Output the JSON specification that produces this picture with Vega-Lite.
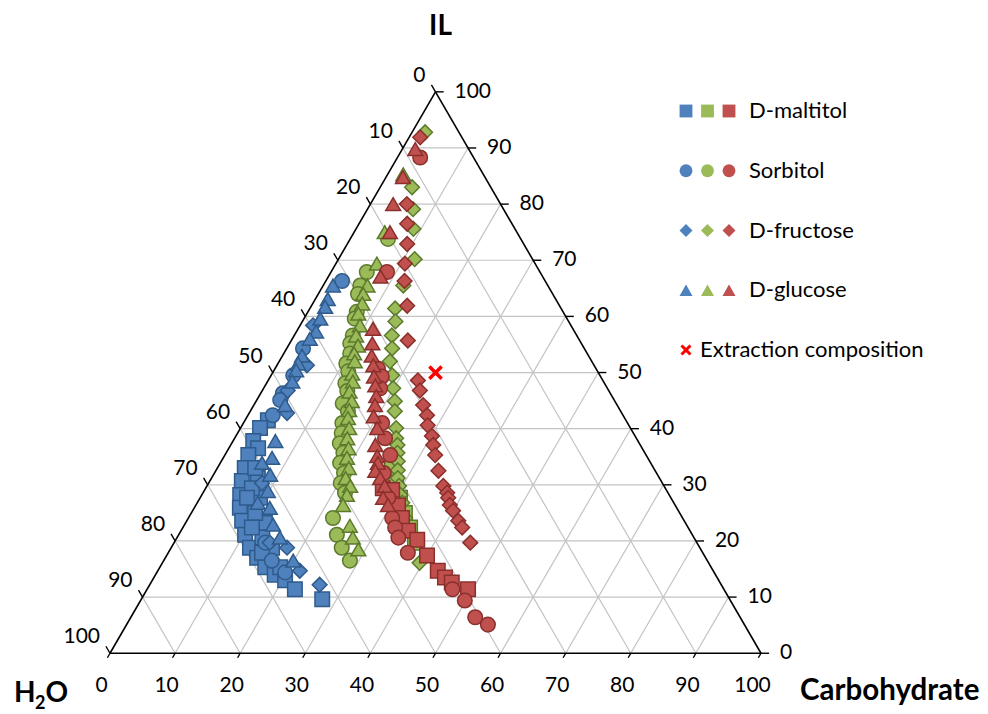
{
  "$schema": "https://vega.github.io/schema/vega-lite/v6.json",
  "width": 988,
  "height": 714,
  "padding": 0,
  "autosize": {"type": "fit", "contains": "padding"},
  "background": "#ffffff",
  "config": {"view": {"stroke": null}, "font": "Lato", "text": {"font": "Lato", "color": "#000000"}},
  "datasets": {
    "edges": [
      {"IL1": 0, "c1": 0, "IL2": 0, "c2": 100},
      {"IL1": 0, "c1": 100, "IL2": 100, "c2": 0},
      {"IL1": 100, "c1": 0, "IL2": 0, "c2": 0}
    ],
    "scaleMarks": [
      {"side": "C", "k": 0}, {"side": "C", "k": 10}, {"side": "C", "k": 20}, {"side": "C", "k": 30}, {"side": "C", "k": 40}, {"side": "C", "k": 50},
      {"side": "C", "k": 60}, {"side": "C", "k": 70}, {"side": "C", "k": 80}, {"side": "C", "k": 90}, {"side": "C", "k": 100},
      {"side": "IL", "k": 0}, {"side": "IL", "k": 10}, {"side": "IL", "k": 20}, {"side": "IL", "k": 30}, {"side": "IL", "k": 40}, {"side": "IL", "k": 50},
      {"side": "IL", "k": 60}, {"side": "IL", "k": 70}, {"side": "IL", "k": 80}, {"side": "IL", "k": 90}, {"side": "IL", "k": 100},
      {"side": "W", "k": 0}, {"side": "W", "k": 10}, {"side": "W", "k": 20}, {"side": "W", "k": 30}, {"side": "W", "k": 40}, {"side": "W", "k": 50},
      {"side": "W", "k": 60}, {"side": "W", "k": 70}, {"side": "W", "k": 80}, {"side": "W", "k": 90}, {"side": "W", "k": 100}
    ],
    "points": [
      {"series": "A", "sugar": "D-maltitol", "IL": 41.5, "carbohydrate": 3.5},
      {"series": "A", "sugar": "D-maltitol", "IL": 40.1, "carbohydrate": 3.0},
      {"series": "A", "sugar": "D-maltitol", "IL": 37.8, "carbohydrate": 3.1},
      {"series": "A", "sugar": "D-maltitol", "IL": 36.5, "carbohydrate": 4.5},
      {"series": "A", "sugar": "D-maltitol", "IL": 35.3, "carbohydrate": 3.6},
      {"series": "A", "sugar": "D-maltitol", "IL": 33.0, "carbohydrate": 4.2},
      {"series": "A", "sugar": "D-maltitol", "IL": 31.2, "carbohydrate": 7.1},
      {"series": "A", "sugar": "D-maltitol", "IL": 30.7, "carbohydrate": 4.9},
      {"series": "A", "sugar": "D-maltitol", "IL": 28.2, "carbohydrate": 5.9},
      {"series": "A", "sugar": "D-maltitol", "IL": 27.7, "carbohydrate": 9.2},
      {"series": "A", "sugar": "D-maltitol", "IL": 25.9, "carbohydrate": 7.0},
      {"series": "A", "sugar": "D-maltitol", "IL": 23.6, "carbohydrate": 8.5},
      {"series": "A", "sugar": "D-maltitol", "IL": 23.2, "carbohydrate": 12.2},
      {"series": "A", "sugar": "D-maltitol", "IL": 21.1, "carbohydrate": 10.2},
      {"series": "A", "sugar": "D-maltitol", "IL": 18.8, "carbohydrate": 12.1},
      {"series": "A", "sugar": "D-maltitol", "IL": 18.8, "carbohydrate": 15.5},
      {"series": "A", "sugar": "D-maltitol", "IL": 17.0, "carbohydrate": 14.1},
      {"series": "A", "sugar": "D-maltitol", "IL": 15.3, "carbohydrate": 16.2},
      {"series": "A", "sugar": "D-maltitol", "IL": 14.0, "carbohydrate": 18.3},
      {"series": "A", "sugar": "D-maltitol", "IL": 13.0, "carbohydrate": 20.4},
      {"series": "A", "sugar": "D-maltitol", "IL": 11.4, "carbohydrate": 22.7},
      {"series": "A", "sugar": "D-maltitol", "IL": 9.6, "carbohydrate": 27.8},
      {"series": "A", "sugar": "D-maltitol", "IL": 33.0, "carbohydrate": 5.8},
      {"series": "A", "sugar": "D-maltitol", "IL": 29.4, "carbohydrate": 7.1},
      {"series": "A", "sugar": "D-maltitol", "IL": 25.0, "carbohydrate": 9.8},
      {"series": "A", "sugar": "D-maltitol", "IL": 20.6, "carbohydrate": 13.1},
      {"series": "A", "sugar": "D-maltitol", "IL": 17.9, "carbohydrate": 14.4},
      {"series": "A", "sugar": "D-maltitol", "IL": 15.3, "carbohydrate": 18.5},
      {"series": "A", "sugar": "D-maltitol", "IL": 27.7, "carbohydrate": 7.2},
      {"series": "A", "sugar": "D-maltitol", "IL": 22.4, "carbohydrate": 10.6},
      {"series": "A", "sugar": "Sorbitol", "IL": 66.3, "carbohydrate": 2.5},
      {"series": "A", "sugar": "Sorbitol", "IL": 54.3, "carbohydrate": 2.5},
      {"series": "A", "sugar": "Sorbitol", "IL": 49.5, "carbohydrate": 3.4},
      {"series": "A", "sugar": "Sorbitol", "IL": 46.3, "carbohydrate": 3.4},
      {"series": "A", "sugar": "Sorbitol", "IL": 45.1, "carbohydrate": 3.6},
      {"series": "A", "sugar": "Sorbitol", "IL": 42.4, "carbohydrate": 3.8},
      {"series": "A", "sugar": "Sorbitol", "IL": 19.7, "carbohydrate": 14.0},
      {"series": "A", "sugar": "Sorbitol", "IL": 16.5, "carbohydrate": 16.6},
      {"series": "A", "sugar": "Sorbitol", "IL": 14.4, "carbohydrate": 19.7},
      {"series": "A", "sugar": "D-fructose", "IL": 58.4, "carbohydrate": 2.0},
      {"series": "A", "sugar": "D-fructose", "IL": 51.3, "carbohydrate": 4.6},
      {"series": "A", "sugar": "D-fructose", "IL": 46.8, "carbohydrate": 3.9},
      {"series": "A", "sugar": "D-fructose", "IL": 42.8, "carbohydrate": 5.8},
      {"series": "A", "sugar": "D-fructose", "IL": 30.3, "carbohydrate": 8.2},
      {"series": "A", "sugar": "D-fructose", "IL": 19.7, "carbohydrate": 14.7},
      {"series": "A", "sugar": "D-fructose", "IL": 18.8, "carbohydrate": 17.8},
      {"series": "A", "sugar": "D-fructose", "IL": 14.7, "carbohydrate": 21.8},
      {"series": "A", "sugar": "D-fructose", "IL": 12.2, "carbohydrate": 26.1},
      {"series": "A", "sugar": "D-glucose", "IL": 65.5, "carbohydrate": 1.5},
      {"series": "A", "sugar": "D-glucose", "IL": 63.1, "carbohydrate": 1.9},
      {"series": "A", "sugar": "D-glucose", "IL": 61.7, "carbohydrate": 2.2},
      {"series": "A", "sugar": "D-glucose", "IL": 59.6, "carbohydrate": 2.5},
      {"series": "A", "sugar": "D-glucose", "IL": 57.3, "carbohydrate": 3.0},
      {"series": "A", "sugar": "D-glucose", "IL": 56.0, "carbohydrate": 2.7},
      {"series": "A", "sugar": "D-glucose", "IL": 53.0, "carbohydrate": 3.0},
      {"series": "A", "sugar": "D-glucose", "IL": 51.6, "carbohydrate": 3.1},
      {"series": "A", "sugar": "D-glucose", "IL": 50.4, "carbohydrate": 3.4},
      {"series": "A", "sugar": "D-glucose", "IL": 48.4, "carbohydrate": 3.8},
      {"series": "A", "sugar": "D-glucose", "IL": 44.2, "carbohydrate": 4.8},
      {"series": "A", "sugar": "D-glucose", "IL": 37.8, "carbohydrate": 6.5},
      {"series": "A", "sugar": "D-glucose", "IL": 34.8, "carbohydrate": 7.5},
      {"series": "A", "sugar": "D-glucose", "IL": 33.9, "carbohydrate": 6.4},
      {"series": "A", "sugar": "D-glucose", "IL": 31.8, "carbohydrate": 8.7},
      {"series": "A", "sugar": "D-glucose", "IL": 28.9, "carbohydrate": 9.8},
      {"series": "A", "sugar": "D-glucose", "IL": 26.8, "carbohydrate": 9.3},
      {"series": "A", "sugar": "D-glucose", "IL": 25.9, "carbohydrate": 11.6},
      {"series": "A", "sugar": "D-glucose", "IL": 22.9, "carbohydrate": 13.6},
      {"series": "A", "sugar": "D-glucose", "IL": 20.6, "carbohydrate": 15.8},
      {"series": "A", "sugar": "D-glucose", "IL": 16.5, "carbohydrate": 19.9},
      {"series": "B", "sugar": "D-maltitol", "IL": 33.0, "carbohydrate": 26.8},
      {"series": "B", "sugar": "D-maltitol", "IL": 30.3, "carbohydrate": 28.8},
      {"series": "B", "sugar": "D-maltitol", "IL": 27.7, "carbohydrate": 30.7},
      {"series": "B", "sugar": "D-maltitol", "IL": 25.0, "carbohydrate": 32.8},
      {"series": "B", "sugar": "D-maltitol", "IL": 22.4, "carbohydrate": 34.9},
      {"series": "B", "sugar": "D-maltitol", "IL": 19.7, "carbohydrate": 37.0},
      {"series": "B", "sugar": "Sorbitol", "IL": 73.8, "carbohydrate": 5.8},
      {"series": "B", "sugar": "Sorbitol", "IL": 67.9, "carbohydrate": 5.5},
      {"series": "B", "sugar": "Sorbitol", "IL": 65.5, "carbohydrate": 5.7},
      {"series": "B", "sugar": "Sorbitol", "IL": 64.0, "carbohydrate": 6.1},
      {"series": "B", "sugar": "Sorbitol", "IL": 60.8, "carbohydrate": 7.5},
      {"series": "B", "sugar": "Sorbitol", "IL": 59.6, "carbohydrate": 7.8},
      {"series": "B", "sugar": "Sorbitol", "IL": 56.6, "carbohydrate": 9.0},
      {"series": "B", "sugar": "Sorbitol", "IL": 55.2, "carbohydrate": 9.3},
      {"series": "B", "sugar": "Sorbitol", "IL": 53.4, "carbohydrate": 10.2},
      {"series": "B", "sugar": "Sorbitol", "IL": 51.6, "carbohydrate": 10.5},
      {"series": "B", "sugar": "Sorbitol", "IL": 50.2, "carbohydrate": 11.5},
      {"series": "B", "sugar": "Sorbitol", "IL": 48.1, "carbohydrate": 12.1},
      {"series": "B", "sugar": "Sorbitol", "IL": 46.7, "carbohydrate": 13.1},
      {"series": "B", "sugar": "Sorbitol", "IL": 44.5, "carbohydrate": 13.5},
      {"series": "B", "sugar": "Sorbitol", "IL": 43.1, "carbohydrate": 15.0},
      {"series": "B", "sugar": "Sorbitol", "IL": 41.0, "carbohydrate": 15.2},
      {"series": "B", "sugar": "Sorbitol", "IL": 39.2, "carbohydrate": 16.0},
      {"series": "B", "sugar": "Sorbitol", "IL": 37.4, "carbohydrate": 16.6},
      {"series": "B", "sugar": "Sorbitol", "IL": 35.7, "carbohydrate": 18.0},
      {"series": "B", "sugar": "Sorbitol", "IL": 33.9, "carbohydrate": 18.4},
      {"series": "B", "sugar": "Sorbitol", "IL": 32.1, "carbohydrate": 19.9},
      {"series": "B", "sugar": "Sorbitol", "IL": 30.3, "carbohydrate": 20.3},
      {"series": "B", "sugar": "Sorbitol", "IL": 28.6, "carbohydrate": 21.8},
      {"series": "B", "sugar": "Sorbitol", "IL": 24.1, "carbohydrate": 22.2},
      {"series": "B", "sugar": "Sorbitol", "IL": 21.1, "carbohydrate": 24.3},
      {"series": "B", "sugar": "Sorbitol", "IL": 18.8, "carbohydrate": 26.2},
      {"series": "B", "sugar": "Sorbitol", "IL": 16.5, "carbohydrate": 28.6},
      {"series": "B", "sugar": "D-fructose", "IL": 92.8, "carbohydrate": 2.0},
      {"series": "B", "sugar": "D-fructose", "IL": 83.0, "carbohydrate": 4.9},
      {"series": "B", "sugar": "D-fructose", "IL": 79.1, "carbohydrate": 7.0},
      {"series": "B", "sugar": "D-fructose", "IL": 75.6, "carbohydrate": 8.8},
      {"series": "B", "sugar": "D-fructose", "IL": 70.2, "carbohydrate": 11.7},
      {"series": "B", "sugar": "D-fructose", "IL": 65.5, "carbohydrate": 12.3},
      {"series": "B", "sugar": "D-fructose", "IL": 61.4, "carbohydrate": 13.1},
      {"series": "B", "sugar": "D-fructose", "IL": 59.1, "carbohydrate": 14.3},
      {"series": "B", "sugar": "D-fructose", "IL": 56.6, "carbohydrate": 15.0},
      {"series": "B", "sugar": "D-fructose", "IL": 54.3, "carbohydrate": 16.2},
      {"series": "B", "sugar": "D-fructose", "IL": 52.0, "carbohydrate": 17.0},
      {"series": "B", "sugar": "D-fructose", "IL": 49.5, "carbohydrate": 18.6},
      {"series": "B", "sugar": "D-fructose", "IL": 47.2, "carbohydrate": 19.9},
      {"series": "B", "sugar": "D-fructose", "IL": 44.9, "carbohydrate": 21.3},
      {"series": "B", "sugar": "D-fructose", "IL": 43.1, "carbohydrate": 22.2},
      {"series": "B", "sugar": "D-fructose", "IL": 40.1, "carbohydrate": 23.9},
      {"series": "B", "sugar": "D-fructose", "IL": 38.3, "carbohydrate": 24.8},
      {"series": "B", "sugar": "D-fructose", "IL": 37.1, "carbohydrate": 25.6},
      {"series": "B", "sugar": "D-fructose", "IL": 35.7, "carbohydrate": 26.3},
      {"series": "B", "sugar": "D-fructose", "IL": 34.2, "carbohydrate": 27.1},
      {"series": "B", "sugar": "D-fructose", "IL": 32.6, "carbohydrate": 27.9},
      {"series": "B", "sugar": "D-fructose", "IL": 31.2, "carbohydrate": 28.6},
      {"series": "B", "sugar": "D-fructose", "IL": 29.8, "carbohydrate": 29.5},
      {"series": "B", "sugar": "D-fructose", "IL": 28.2, "carbohydrate": 30.5},
      {"series": "B", "sugar": "D-fructose", "IL": 26.8, "carbohydrate": 31.5},
      {"series": "B", "sugar": "D-fructose", "IL": 24.1, "carbohydrate": 33.3},
      {"series": "B", "sugar": "D-fructose", "IL": 16.1, "carbohydrate": 39.5},
      {"series": "B", "sugar": "D-glucose", "IL": 85.3, "carbohydrate": 2.4},
      {"series": "B", "sugar": "D-glucose", "IL": 75.0, "carbohydrate": 4.7},
      {"series": "B", "sugar": "D-glucose", "IL": 69.4, "carbohydrate": 6.3},
      {"series": "B", "sugar": "D-glucose", "IL": 65.5, "carbohydrate": 6.8},
      {"series": "B", "sugar": "D-glucose", "IL": 64.0, "carbohydrate": 6.9},
      {"series": "B", "sugar": "D-glucose", "IL": 62.3, "carbohydrate": 7.6},
      {"series": "B", "sugar": "D-glucose", "IL": 60.5, "carbohydrate": 7.9},
      {"series": "B", "sugar": "D-glucose", "IL": 58.4, "carbohydrate": 9.2},
      {"series": "B", "sugar": "D-glucose", "IL": 56.6, "carbohydrate": 9.5},
      {"series": "B", "sugar": "D-glucose", "IL": 54.8, "carbohydrate": 10.7},
      {"series": "B", "sugar": "D-glucose", "IL": 53.4, "carbohydrate": 10.8},
      {"series": "B", "sugar": "D-glucose", "IL": 52.0, "carbohydrate": 11.6},
      {"series": "B", "sugar": "D-glucose", "IL": 49.8, "carbohydrate": 12.3},
      {"series": "B", "sugar": "D-glucose", "IL": 48.4, "carbohydrate": 13.1},
      {"series": "B", "sugar": "D-glucose", "IL": 46.6, "carbohydrate": 13.5},
      {"series": "B", "sugar": "D-glucose", "IL": 44.9, "carbohydrate": 14.7},
      {"series": "B", "sugar": "D-glucose", "IL": 43.3, "carbohydrate": 15.1},
      {"series": "B", "sugar": "D-glucose", "IL": 41.9, "carbohydrate": 15.6},
      {"series": "B", "sugar": "D-glucose", "IL": 40.1, "carbohydrate": 16.7},
      {"series": "B", "sugar": "D-glucose", "IL": 38.3, "carbohydrate": 17.3},
      {"series": "B", "sugar": "D-glucose", "IL": 36.5, "carbohydrate": 18.4},
      {"series": "B", "sugar": "D-glucose", "IL": 34.8, "carbohydrate": 19.0},
      {"series": "B", "sugar": "D-glucose", "IL": 33.0, "carbohydrate": 20.2},
      {"series": "B", "sugar": "D-glucose", "IL": 31.2, "carbohydrate": 20.6},
      {"series": "B", "sugar": "D-glucose", "IL": 29.8, "carbohydrate": 22.0},
      {"series": "B", "sugar": "D-glucose", "IL": 28.2, "carbohydrate": 22.3},
      {"series": "B", "sugar": "D-glucose", "IL": 26.4, "carbohydrate": 22.6},
      {"series": "B", "sugar": "D-glucose", "IL": 22.7, "carbohydrate": 25.5},
      {"series": "B", "sugar": "D-glucose", "IL": 20.6, "carbohydrate": 27.0},
      {"series": "B", "sugar": "D-glucose", "IL": 18.5, "carbohydrate": 28.9},
      {"series": "C", "sugar": "D-maltitol", "IL": 29.4, "carbohydrate": 27.2},
      {"series": "C", "sugar": "D-maltitol", "IL": 29.1, "carbohydrate": 28.8},
      {"series": "C", "sugar": "D-maltitol", "IL": 26.3, "carbohydrate": 31.1},
      {"series": "C", "sugar": "D-maltitol", "IL": 24.1, "carbohydrate": 32.8},
      {"series": "C", "sugar": "D-maltitol", "IL": 21.8, "carbohydrate": 34.9},
      {"series": "C", "sugar": "D-maltitol", "IL": 20.2, "carbohydrate": 37.1},
      {"series": "C", "sugar": "D-maltitol", "IL": 17.4, "carbohydrate": 40.0},
      {"series": "C", "sugar": "D-maltitol", "IL": 14.7, "carbohydrate": 43.0},
      {"series": "C", "sugar": "D-maltitol", "IL": 13.5, "carbohydrate": 44.7},
      {"series": "C", "sugar": "D-maltitol", "IL": 12.6, "carbohydrate": 46.2},
      {"series": "C", "sugar": "D-maltitol", "IL": 11.4, "carbohydrate": 49.3},
      {"series": "C", "sugar": "Sorbitol", "IL": 88.3, "carbohydrate": 3.5},
      {"series": "C", "sugar": "Sorbitol", "IL": 67.9, "carbohydrate": 8.6},
      {"series": "C", "sugar": "Sorbitol", "IL": 50.7, "carbohydrate": 15.8},
      {"series": "C", "sugar": "Sorbitol", "IL": 49.3, "carbohydrate": 17.1},
      {"series": "C", "sugar": "Sorbitol", "IL": 47.2, "carbohydrate": 17.9},
      {"series": "C", "sugar": "Sorbitol", "IL": 41.0, "carbohydrate": 21.3},
      {"series": "C", "sugar": "Sorbitol", "IL": 38.3, "carbohydrate": 23.1},
      {"series": "C", "sugar": "Sorbitol", "IL": 35.3, "carbohydrate": 25.4},
      {"series": "C", "sugar": "Sorbitol", "IL": 32.1, "carbohydrate": 26.0},
      {"series": "C", "sugar": "Sorbitol", "IL": 27.7, "carbohydrate": 28.9},
      {"series": "C", "sugar": "Sorbitol", "IL": 24.1, "carbohydrate": 31.3},
      {"series": "C", "sugar": "Sorbitol", "IL": 22.4, "carbohydrate": 32.6},
      {"series": "C", "sugar": "Sorbitol", "IL": 20.6, "carbohydrate": 34.0},
      {"series": "C", "sugar": "Sorbitol", "IL": 17.9, "carbohydrate": 36.8},
      {"series": "C", "sugar": "Sorbitol", "IL": 11.4, "carbohydrate": 46.9},
      {"series": "C", "sugar": "Sorbitol", "IL": 9.4, "carbohydrate": 49.8},
      {"series": "C", "sugar": "Sorbitol", "IL": 6.4, "carbohydrate": 52.9},
      {"series": "C", "sugar": "Sorbitol", "IL": 5.1, "carbohydrate": 55.5},
      {"series": "C", "sugar": "D-fructose", "IL": 91.9, "carbohydrate": 1.7},
      {"series": "C", "sugar": "D-fructose", "IL": 80.0, "carbohydrate": 5.6},
      {"series": "C", "sugar": "D-fructose", "IL": 76.5, "carbohydrate": 7.4},
      {"series": "C", "sugar": "D-fructose", "IL": 72.9, "carbohydrate": 9.2},
      {"series": "C", "sugar": "D-fructose", "IL": 69.4, "carbohydrate": 10.6},
      {"series": "C", "sugar": "D-fructose", "IL": 66.3, "carbohydrate": 12.1},
      {"series": "C", "sugar": "D-fructose", "IL": 61.9, "carbohydrate": 14.7},
      {"series": "C", "sugar": "D-fructose", "IL": 55.7, "carbohydrate": 17.9},
      {"series": "C", "sugar": "D-fructose", "IL": 48.6, "carbohydrate": 23.0},
      {"series": "C", "sugar": "D-fructose", "IL": 46.8, "carbohydrate": 24.2},
      {"series": "C", "sugar": "D-fructose", "IL": 44.2, "carbohydrate": 26.0},
      {"series": "C", "sugar": "D-fructose", "IL": 42.4, "carbohydrate": 27.5},
      {"series": "C", "sugar": "D-fructose", "IL": 40.6, "carbohydrate": 28.5},
      {"series": "C", "sugar": "D-fructose", "IL": 38.7, "carbohydrate": 30.1},
      {"series": "C", "sugar": "D-fructose", "IL": 37.1, "carbohydrate": 31.1},
      {"series": "C", "sugar": "D-fructose", "IL": 35.3, "carbohydrate": 32.3},
      {"series": "C", "sugar": "D-fructose", "IL": 32.5, "carbohydrate": 34.2},
      {"series": "C", "sugar": "D-fructose", "IL": 29.8, "carbohydrate": 36.3},
      {"series": "C", "sugar": "D-fructose", "IL": 28.6, "carbohydrate": 37.5},
      {"series": "C", "sugar": "D-fructose", "IL": 27.7, "carbohydrate": 38.1},
      {"series": "C", "sugar": "D-fructose", "IL": 26.4, "carbohydrate": 39.0},
      {"series": "C", "sugar": "D-fructose", "IL": 25.4, "carbohydrate": 40.0},
      {"series": "C", "sugar": "D-fructose", "IL": 23.6, "carbohydrate": 41.7},
      {"series": "C", "sugar": "D-fructose", "IL": 22.4, "carbohydrate": 42.9},
      {"series": "C", "sugar": "D-fructose", "IL": 19.7, "carbohydrate": 45.5},
      {"series": "C", "sugar": "D-glucose", "IL": 89.8, "carbohydrate": 2.0},
      {"series": "C", "sugar": "D-glucose", "IL": 84.8, "carbohydrate": 2.6},
      {"series": "C", "sugar": "D-glucose", "IL": 80.0, "carbohydrate": 3.5},
      {"series": "C", "sugar": "D-glucose", "IL": 75.0, "carbohydrate": 5.5},
      {"series": "C", "sugar": "D-glucose", "IL": 67.1, "carbohydrate": 8.0},
      {"series": "C", "sugar": "D-glucose", "IL": 57.8, "carbohydrate": 11.5},
      {"series": "C", "sugar": "D-glucose", "IL": 55.2, "carbohydrate": 12.7},
      {"series": "C", "sugar": "D-glucose", "IL": 53.0, "carbohydrate": 13.7},
      {"series": "C", "sugar": "D-glucose", "IL": 51.3, "carbohydrate": 14.8},
      {"series": "C", "sugar": "D-glucose", "IL": 49.3, "carbohydrate": 15.9},
      {"series": "C", "sugar": "D-glucose", "IL": 47.7, "carbohydrate": 16.9},
      {"series": "C", "sugar": "D-glucose", "IL": 45.8, "carbohydrate": 18.0},
      {"series": "C", "sugar": "D-glucose", "IL": 44.2, "carbohydrate": 18.6},
      {"series": "C", "sugar": "D-glucose", "IL": 42.2, "carbohydrate": 19.4},
      {"series": "C", "sugar": "D-glucose", "IL": 40.1, "carbohydrate": 21.0},
      {"series": "C", "sugar": "D-glucose", "IL": 37.1, "carbohydrate": 22.2},
      {"series": "C", "sugar": "D-glucose", "IL": 35.1, "carbohydrate": 23.5},
      {"series": "C", "sugar": "D-glucose", "IL": 33.9, "carbohydrate": 24.2},
      {"series": "C", "sugar": "D-glucose", "IL": 32.5, "carbohydrate": 24.5},
      {"series": "C", "sugar": "D-glucose", "IL": 31.2, "carbohydrate": 25.9},
      {"series": "C", "sugar": "D-glucose", "IL": 29.8, "carbohydrate": 27.3},
      {"series": "C", "sugar": "D-glucose", "IL": 27.7, "carbohydrate": 28.1},
      {"series": "C", "sugar": "D-glucose", "IL": 26.4, "carbohydrate": 29.5}
    ],
    "extraction": [{"IL": 50, "carbohydrate": 25}],
    "vertices": [
      {"vertex": "IL", "IL": 100, "carbohydrate": 0},
      {"vertex": "H2O", "IL": 0, "carbohydrate": 0},
      {"vertex": "Carbohydrate", "IL": 0, "carbohydrate": 100}
    ],
    "legendSymbols": [
      {"sugar": "D-maltitol", "series": "A"}, {"sugar": "D-maltitol", "series": "B"}, {"sugar": "D-maltitol", "series": "C"},
      {"sugar": "Sorbitol", "series": "A"}, {"sugar": "Sorbitol", "series": "B"}, {"sugar": "Sorbitol", "series": "C"},
      {"sugar": "D-fructose", "series": "A"}, {"sugar": "D-fructose", "series": "B"}, {"sugar": "D-fructose", "series": "C"},
      {"sugar": "D-glucose", "series": "A"}, {"sugar": "D-glucose", "series": "B"}, {"sugar": "D-glucose", "series": "C"}
    ],
    "legendEntries": [
      {"sugar": "D-maltitol", "series": "C"},
      {"sugar": "Sorbitol", "series": "C"},
      {"sugar": "D-fructose", "series": "C"},
      {"sugar": "D-glucose", "series": "C"},
      {"sugar": "Extraction composition", "series": "A"}
    ]
  },
  "layer": [
    {
      "layer": [
        {
          "data": {"name": "scaleMarks"},
          "transform": [
            {"calculate": "datum.side == 'C' ? datum.k : datum.side == 'IL' ? datum.k / 2 : 100 - datum.k", "as": "gx1"},
            {"calculate": "datum.side == 'IL' ? datum.k * 0.8660254 : 0", "as": "gy1"},
            {"calculate": "datum.side == 'C' ? 50 + datum.k / 2 : datum.side == 'IL' ? 100 - datum.k / 2 : (100 - datum.k) / 2", "as": "gx2"},
            {"calculate": "datum.side == 'IL' ? datum.k * 0.8660254 : (100 - datum.k) * 0.8660254", "as": "gy2"},
            {"calculate": "datum.side == 'C' ? datum.k : datum.side == 'IL' ? 100 - datum.k / 2 : (100 - datum.k) / 2", "as": "bx"},
            {"calculate": "datum.side == 'C' ? 0 : datum.side == 'IL' ? datum.k * 0.8660254 : (100 - datum.k) * 0.8660254", "as": "by"},
            {"calculate": "datum.side == 'C' ? datum.k - 0.4 : datum.side == 'IL' ? 100 - datum.k / 2 + 1.25 : (100 - datum.k) / 2 - 0.625", "as": "ex"},
            {"calculate": "datum.side == 'C' ? -0.8 * 0.8660254 : datum.side == 'IL' ? datum.k * 0.8660254 : (100 - datum.k + 1.25) * 0.8660254", "as": "ey"}
          ],
          "layer": [
            {
              "transform": [{"filter": "datum.k > 0 && datum.k < 100"}],
              "mark": {"type": "rule", "color": "#c3c3c3", "strokeWidth": 1.2},
              "encoding": {
                "x": {"field": "gx1", "type": "quantitative", "scale": {"domain": [-16.897, 134.87], "nice": false, "zero": false}, "axis": null},
                "y": {"field": "gy1", "type": "quantitative", "scale": {"domain": [-8.909, 100.768], "nice": false, "zero": false}, "axis": null},
                "x2": {"field": "gx2"},
                "y2": {"field": "gy2"}
              }
            },
            {
              "mark": {"type": "rule", "color": "#000000", "strokeWidth": 1.4},
              "encoding": {
                "x": {"field": "bx", "type": "quantitative", "scale": {"domain": [-16.897, 134.87], "nice": false, "zero": false}, "axis": null},
                "y": {"field": "by", "type": "quantitative", "scale": {"domain": [-8.909, 100.768], "nice": false, "zero": false}, "axis": null},
                "x2": {"field": "ex"},
                "y2": {"field": "ey"}
              }
            },
            {
              "transform": [{"filter": "datum.side == 'C'"}],
              "mark": {"type": "text", "fontSize": 21, "align": "center", "baseline": "middle", "dx": -8.5, "dy": 33},
              "encoding": {
                "x": {"field": "bx", "type": "quantitative", "axis": null},
                "y": {"field": "by", "type": "quantitative", "axis": null},
                "text": {"field": "k", "type": "quantitative", "format": "d"}
              }
            },
            {
              "transform": [{"filter": "datum.side == 'IL'"}],
              "mark": {"type": "text", "fontSize": 21, "align": "left", "baseline": "middle", "dx": 19, "dy": 0},
              "encoding": {
                "x": {"field": "bx", "type": "quantitative", "axis": null},
                "y": {"field": "by", "type": "quantitative", "axis": null},
                "text": {"field": "k", "type": "quantitative", "format": "d"}
              }
            },
            {
              "transform": [{"filter": "datum.side == 'W'"}],
              "mark": {"type": "text", "fontSize": 21, "align": "right", "baseline": "middle", "dx": -10, "dy": -16},
              "encoding": {
                "x": {"field": "bx", "type": "quantitative", "axis": null},
                "y": {"field": "by", "type": "quantitative", "axis": null},
                "text": {"field": "k", "type": "quantitative", "format": "d"}
              }
            }
          ]
        },
        {
          "data": {"name": "edges"},
          "transform": [
            {"calculate": "datum.c1 + datum.IL1 / 2", "as": "x1"},
            {"calculate": "datum.IL1 * 0.8660254", "as": "y1"},
            {"calculate": "datum.c2 + datum.IL2 / 2", "as": "x2"},
            {"calculate": "datum.IL2 * 0.8660254", "as": "y2"}
          ],
          "mark": {"type": "rule", "color": "#000000", "strokeWidth": 1.6},
          "encoding": {
            "x": {"field": "x1", "type": "quantitative", "axis": null},
            "y": {"field": "y1", "type": "quantitative", "axis": null},
            "x2": {"field": "x2"},
            "y2": {"field": "y2"}
          }
        },
        {
          "data": {"name": "points"},
          "transform": [
            {"calculate": "datum.carbohydrate + datum.IL / 2", "as": "px"},
            {"calculate": "datum.IL * 0.8660254", "as": "py"}
          ],
          "mark": {"type": "point", "filled": true, "opacity": 1, "strokeWidth": 1.5},
          "encoding": {
            "x": {"field": "px", "type": "quantitative", "axis": null},
            "y": {"field": "py", "type": "quantitative", "axis": null},
            "shape": {"field": "sugar", "type": "nominal", "scale": {"domain": ["D-maltitol", "Sorbitol", "D-fructose", "D-glucose"], "range": ["square", "circle", "diamond", "triangle-up"]}, "legend": null},
            "size": {"field": "sugar", "type": "ordinal", "scale": {"domain": ["D-maltitol", "Sorbitol", "D-fructose", "D-glucose"], "range": [210, 220, 320, 290]}, "legend": null},
            "fill": {"field": "series", "type": "nominal", "scale": {"domain": ["A", "B", "C"], "range": ["#4F81BD", "#9BBB59", "#C0504D"]}, "legend": null},
            "stroke": {"field": "series", "type": "nominal", "scale": {"domain": ["A", "B", "C"], "range": ["#2F5B8C", "#5C7A2C", "#8A2F2C"]}, "legend": null}
          }
        },
        {
          "data": {"name": "extraction"},
          "transform": [
            {"calculate": "datum.carbohydrate + datum.IL / 2", "as": "px"},
            {"calculate": "datum.IL * 0.8660254", "as": "py"}
          ],
          "mark": {"type": "point", "shape": "M-1,-1L1,1M-1,1L1,-1", "filled": false, "stroke": "#FF0000", "strokeWidth": 3.5, "size": 150, "opacity": 1},
          "encoding": {
            "x": {"field": "px", "type": "quantitative", "axis": null},
            "y": {"field": "py", "type": "quantitative", "axis": null}
          }
        },
        {
          "data": {"name": "vertices"},
          "transform": [
            {"calculate": "datum.carbohydrate + datum.IL / 2", "as": "px"},
            {"calculate": "datum.IL * 0.8660254", "as": "py"}
          ],
          "layer": [
            {
              "transform": [{"filter": "datum.vertex == 'IL'"}],
              "mark": {"type": "text", "fontSize": 28, "fontWeight": "bold", "align": "center", "baseline": "alphabetic", "dx": 5, "dy": -57, "text": "IL"},
              "encoding": {"x": {"field": "px", "type": "quantitative", "axis": null}, "y": {"field": "py", "type": "quantitative", "axis": null}}
            },
            {
              "transform": [{"filter": "datum.vertex == 'H2O'"}],
              "mark": {"type": "text", "fontSize": 28, "fontWeight": "bold", "align": "left", "baseline": "alphabetic", "dx": -96, "dy": 49, "text": "H"},
              "encoding": {"x": {"field": "px", "type": "quantitative", "axis": null}, "y": {"field": "py", "type": "quantitative", "axis": null}}
            },
            {
              "transform": [{"filter": "datum.vertex == 'H2O'"}],
              "mark": {"type": "text", "fontSize": 18, "fontWeight": "bold", "align": "left", "baseline": "alphabetic", "dx": -75, "dy": 56, "text": "2"},
              "encoding": {"x": {"field": "px", "type": "quantitative", "axis": null}, "y": {"field": "py", "type": "quantitative", "axis": null}}
            },
            {
              "transform": [{"filter": "datum.vertex == 'H2O'"}],
              "mark": {"type": "text", "fontSize": 28, "fontWeight": "bold", "align": "left", "baseline": "alphabetic", "dx": -64.5, "dy": 49, "text": "O"},
              "encoding": {"x": {"field": "px", "type": "quantitative", "axis": null}, "y": {"field": "py", "type": "quantitative", "axis": null}}
            },
            {
              "transform": [{"filter": "datum.vertex == 'Carbohydrate'"}],
              "mark": {"type": "text", "fontSize": 29.5, "fontWeight": "bold", "align": "left", "baseline": "alphabetic", "dx": 39, "dy": 47, "text": "Carbohydrate"},
              "encoding": {"x": {"field": "px", "type": "quantitative", "axis": null}, "y": {"field": "py", "type": "quantitative", "axis": null}}
            }
          ]
        }
      ]
    },
    {
      "layer": [
        {
          "data": {"name": "legendSymbols"},
          "mark": {"type": "point", "filled": true, "opacity": 1, "strokeWidth": 0},
          "encoding": {
            "x": {"field": "series", "type": "nominal", "scale": {"type": "point", "domain": ["A", "B", "C"], "range": [686, 729], "padding": 0}, "axis": null},
            "y": {"field": "sugar", "type": "nominal", "scale": {"type": "point", "domain": ["D-maltitol", "Sorbitol", "D-fructose", "D-glucose", "Extraction composition"], "range": [111, 350], "padding": 0}, "axis": null},
            "shape": {"field": "sugar", "type": "nominal", "scale": {"domain": ["D-maltitol", "Sorbitol", "D-fructose", "D-glucose"], "range": ["square", "circle", "diamond", "triangle-up"]}, "legend": null},
            "size": {"field": "sugar", "type": "ordinal", "scale": {"domain": ["D-maltitol", "Sorbitol", "D-fructose", "D-glucose"], "range": [165, 170, 230, 200]}, "legend": null},
            "fill": {"field": "series", "type": "nominal", "scale": {"domain": ["A", "B", "C"], "range": ["#4F81BD", "#9BBB59", "#C0504D"]}, "legend": null}
          }
        },
        {
          "data": {"name": "legendEntries"},
          "transform": [{"filter": "datum.sugar == 'Extraction composition'"}],
          "mark": {"type": "point", "shape": "M-1,-1L1,1M-1,1L1,-1", "filled": false, "stroke": "#FF0000", "strokeWidth": 3, "size": 80, "opacity": 1},
          "encoding": {
            "x": {"field": "series", "type": "nominal", "axis": null},
            "y": {"field": "sugar", "type": "nominal", "axis": null}
          }
        },
        {
          "data": {"name": "legendEntries"},
          "transform": [{"filter": "datum.sugar != 'Extraction composition'"}],
          "mark": {"type": "text", "fontSize": 22, "align": "left", "baseline": "middle", "dx": 20},
          "encoding": {
            "x": {"field": "series", "type": "nominal", "axis": null},
            "y": {"field": "sugar", "type": "nominal", "axis": null},
            "text": {"field": "sugar"}
          }
        },
        {
          "data": {"name": "legendEntries"},
          "transform": [{"filter": "datum.sugar == 'Extraction composition'"}],
          "mark": {"type": "text", "fontSize": 22, "align": "left", "baseline": "middle", "dx": 14},
          "encoding": {
            "x": {"field": "series", "type": "nominal", "axis": null},
            "y": {"field": "sugar", "type": "nominal", "axis": null},
            "text": {"field": "sugar"}
          }
        }
      ]
    }
  ],
  "resolve": {"scale": {"x": "independent", "y": "independent", "shape": "independent", "size": "independent", "fill": "independent"}}
}
